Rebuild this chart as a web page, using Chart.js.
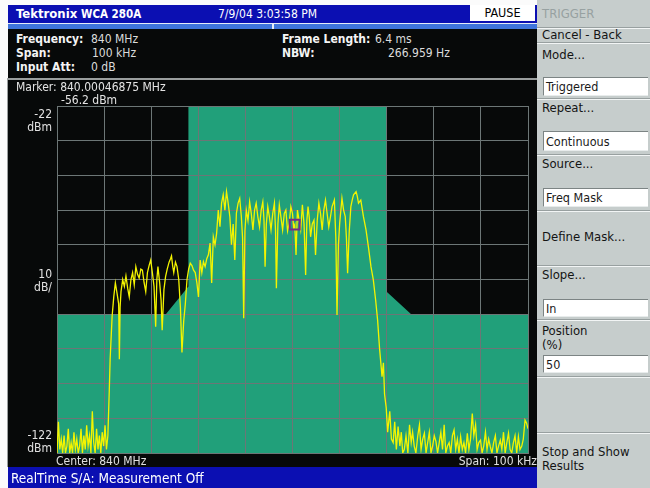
<!DOCTYPE html>
<html><head><meta charset="utf-8">
<script src="https://cdn.jsdelivr.net/npm/chart.js@4/dist/chart.umd.min.js"></script>
<style>
html,body{margin:0;padding:0;background:#fff;}
#screen{position:relative;width:650px;height:488px;overflow:hidden;background:#fbfbfb;
 font-family:"DejaVu Sans Condensed","DejaVu Sans",sans-serif;font-stretch:condensed;}
.r{position:absolute;}
.t{position:absolute;white-space:nowrap;height:14px;line-height:14px;}
.lbl{color:#f4f4f4;font-weight:bold;font-size:12px;}
.val{color:#dcdcdc;font-size:12px;}
.pt{color:#141414;font-size:13px;left:542px;}
.sep{position:absolute;left:537px;width:113px;height:1px;background:#98a0a0;border-bottom:1px solid #f2f5f5;}
.fld{position:absolute;left:543px;width:105px;background:#fff;border-top:1px solid #7c8484;border-left:1px solid #7c8484;border-bottom:1px solid #e8ecec;
 font-size:12.5px;color:#1a1a1a;padding-left:2px;box-sizing:border-box;}
</style></head>
<body>
<div id="screen">
  <!-- top title bar -->
  <div class="r" style="left:8px;top:5px;width:529px;height:18px;background:#0b0fb2;"></div>
  <div class="t" style="left:16px;top:7px;color:#fff;font-weight:bold;font-size:13px;">Tektronix</div>
  <div class="t" style="left:81px;top:7px;color:#fff;font-weight:bold;font-size:11.5px;">WCA 280A</div>
  <div class="t" style="left:218px;top:7px;color:#fff;font-size:12px;">7/9/04 3:03:58 PM</div>
  <div class="r" style="left:470px;top:5px;width:65px;height:16px;background:#fff;"></div>
  <div class="t" style="left:470px;top:6px;width:65px;text-align:center;color:#000;font-size:12.5px;">PAUSE</div>
  <div class="r" style="left:8px;top:23px;width:529px;height:1px;background:#e6ebf8;"></div>
  <div class="r" style="left:8px;top:24px;width:529px;height:5px;background:#3f74dc;"></div>
  <div class="r" style="left:272px;top:23px;width:2px;height:6px;background:#e6ebf8;"></div>

  <!-- black instrument panel -->
  <div class="r" style="left:8px;top:29px;width:529px;height:438px;background:#070909;"></div>
  <div class="t lbl" style="left:16px;top:32px;">Frequency:</div>
  <div class="t val" style="left:91px;top:32px;">840 MHz</div>
  <div class="t lbl" style="left:16px;top:46px;">Span:</div>
  <div class="t val" style="left:92px;top:46px;">100 kHz</div>
  <div class="t lbl" style="left:16px;top:60px;">Input Att:</div>
  <div class="t val" style="left:91px;top:60px;">0 dB</div>
  <div class="t lbl" style="left:282px;top:32px;">Frame Length:</div>
  <div class="t val" style="left:375px;top:32px;">6.4 ms</div>
  <div class="t lbl" style="left:282px;top:46px;">NBW:</div>
  <div class="t val" style="left:388px;top:46px;">266.959 Hz</div>
  <div class="r" style="left:8px;top:78px;width:529px;height:2px;background:#9a9e9e;"></div>
  <div class="r" style="left:7px;top:78px;width:1px;height:389px;background:#9a9e9e;"></div>

  <canvas id="c" class="r" width="529" height="386" style="left:8px;top:81px;"></canvas>

  <div class="t val" style="left:16px;top:80px;color:#e4e4e4;">Marker: 840.00046875 MHz</div>
  <div class="t val" style="left:61px;top:93px;color:#e4e4e4;">-56.2 dBm</div>
  <div class="t val" style="left:56px;top:454px;color:#e0e0e0;">Center: 840 MHz</div>
  <div class="t val" style="left:380px;top:454px;width:157px;text-align:right;color:#e0e0e0;">Span: 100 kHz</div>

  <!-- status bar -->
  <div class="r" style="left:8px;top:467px;width:530px;height:21px;background:#0b0fb2;"></div>
  <div class="t" style="left:11px;top:471px;color:#fff;font-size:13.5px;">RealTime S/A: Measurement Off</div>

  <!-- right soft-key panel -->
  <div class="r" style="left:537px;top:0;width:113px;height:488px;background:#c6cdcc;"></div>
  <div class="t pt" style="top:7px;color:#97a1a1;">TRIGGER</div>
  <div class="sep" style="top:27px;"></div>
  <div class="t pt" style="top:28px;">Cancel - Back</div>
  <div class="sep" style="top:42px;"></div>
  <div class="t pt" style="top:48px;">Mode...</div>
  <div class="fld" style="top:77px;height:19px;line-height:18px;">Triggered</div>
  <div class="sep" style="top:98px;"></div>
  <div class="t pt" style="top:101px;">Repeat...</div>
  <div class="fld" style="top:131px;height:20px;line-height:19px;">Continuous</div>
  <div class="sep" style="top:154px;"></div>
  <div class="t pt" style="top:157px;">Source...</div>
  <div class="fld" style="top:188px;height:19px;line-height:18px;">Freq Mask</div>
  <div class="sep" style="top:210px;"></div>
  <div class="t pt" style="top:230px;">Define Mask...</div>
  <div class="sep" style="top:265px;"></div>
  <div class="t pt" style="top:268px;">Slope...</div>
  <div class="fld" style="top:299px;height:18px;line-height:17px;">In</div>
  <div class="sep" style="top:319px;"></div>
  <div class="t pt" style="top:324px;">Position</div>
  <div class="t pt" style="top:338px;">(%)</div>
  <div class="fld" style="top:355px;height:18px;line-height:17px;">50</div>
  <div class="sep" style="top:376px;"></div>
  <div class="sep" style="top:432px;"></div>
  <div class="t pt" style="top:445px;">Stop and Show</div>
  <div class="t pt" style="top:459px;">Results</div>
</div>

<script>
// ---- data (frequency offset from 840 MHz centre, kHz; level dBm) ----
const traceKHz = [
 -50.0,-49.7,-49.4,-49.1,-48.8,-48.5,-48.2,-47.9,-47.6,-47.3,-47.0,-46.7,-46.4,-46.1,-45.8,-45.5,-45.2,-44.9,-44.6,-44.3,
 -44.0,-43.7,-43.4,-43.1,-42.8,-42.5,-42.2,-41.9,-41.6,-41.3,-41.0,-40.7,-40.4,-40.1,-39.8,-39.5,-39.2,
 -38.9,-38.72,-38.3,-37.95,-37.61,-37.25,-36.91,-36.76,-36.6,-36.41,-36.05,-35.7,-35.36,-35.0,-34.66,-34.3,-33.95,-33.6,
 -33.26,-32.9,-32.56,-32.2,-31.87,-31.5,-31.16,-30.8,-30.45,-30.11,-29.75,-29.4,-29.05,-28.8,-28.57,-28.2,-27.9,-27.67,
 -27.3,-26.95,-26.6,-26.2,-25.9,-25.69,-25.45,-25.21,-24.85,-24.52,-24.15,-23.8,-23.47,-23.1,-22.75,-22.4,-22.05,-21.7,
 -21.35,-21.01,-20.65,-20.3,-19.96,-19.6,-19.25,-18.91,-18.55,-18.2,-17.86,-17.5,-17.16,-16.81,-16.45,-16.11,-15.76,-15.4,
 -15.06,-14.71,-14.35,-14.01,-13.66,-13.3,-12.96,-12.6,-12.25,-11.91,-11.55,-11.2,-10.86,-10.6,-10.36,-10.1,-9.81,-9.45,
 -9.1,-8.75,-8.4,-8.05,-7.71,-7.35,-7.0,-6.65,-6.3,-6.05,-5.82,-5.55,-5.25,-4.9,-4.56,-4.2,-3.84,-3.6,-3.42,-3.1,-2.8,
 -2.45,-2.1,-1.75,-1.41,-1.05,-0.7,-0.35,0.0,0.25,0.48,0.75,1.05,1.4,1.74,2.1,2.45,2.79,3.05,3.3,3.55,3.84,4.2,4.56,4.89,
 5.25,5.6,5.95,6.3,6.65,7.0,7.35,7.7,8.05,8.4,8.89,9.2,9.45,9.75,10.02,10.5,10.85,11.2,11.45,11.7,12.05,12.39,12.7,12.96,
 13.5,13.75,14.01,14.5,15.06,15.61,16.11,16.66,17.16,17.65,18.07,18.49,19.01,19.3,19.54,19.9,20.2,20.65,21.0,21.37,21.7,
 22.05,22.42,22.8,23.1,23.4,23.74,24.1,24.5,24.85,25.2,25.5,25.84,26.2,26.6,26.95,27.3,27.65,28.0,28.35,28.7,29.05,29.4,
 29.75,30.1,30.46,30.8,31.15,31.5,31.85,32.2,32.55,32.9,33.26,33.6,33.95,34.3,34.65,35.0,35.35,35.7,36.05,36.4,36.75,
 37.12,37.45,37.8,38.17,38.5,38.87,39.2,39.55,39.92,40.25,40.6,40.97,41.3,41.65,42.0,42.35,42.7,43.07,43.4,43.75,44.12,
 44.45,44.8,45.15,45.5,45.86,46.2,46.55,46.9,47.25,47.6,47.96,48.3,48.68,49.0,49.37,49.7,50.0
];
const traceDBm = [
 -122,-113,-121,-118,-122,-117,-122,-120,-115,-122,-119,-122,-116,-121,-118,-122,-120,-115,-122,-117,
 -121,-114,-120,-117,-122,-110,-119,-122,-115,-121,-117,-122,-116,-120,-114,-121,-117,
 -104,-95,-82.7,-77,-73,-76,-79,-95,-80,-75.5,-72,-74,-71,-74.5,-77,-72,-70,-73.5,
 -68.3,-70.5,-71.6,-69,-69.3,-73,-75.5,-70,-68,-66.4,-70,-74,-85.6,-72,-68.3,-73,-78,-86.6,
 -75,-71.2,-69,-67,-66,-65.2,-68,-70,-67,-68.3,-72,-80,-93,-84,-79,-72,-69,-67.3,
 -68,-69.3,-70,-73,-77,-66.4,-70,-66.9,-68.3,-66,-64.9,-61.5,-73,-59.7,-62,-58.7,-52,-56.8,
 -50,-47.6,-52,-46.7,-50,-53.9,-62,-56,-66.4,-52.9,-50,-48.6,-53.9,-60,-83.2,-58,-52,-55,
 -49.6,-53,-57.7,-52,-50,-54,-56.8,-52,-49.6,-55,-68.3,-56,-51,-54,-57.7,-53,-50,-58,-74.5,-56,-50.5,
 -54,-57.7,-53,-52,-58,-55.8,-51,-53,-57,-56.2,-64.9,-52,-55,-57.7,-50.5,-56,-70.7,-55,-51,-54,-59.7,-56,-54.9,-64.9,
 -55,-50,-53,-57.7,-52,-49.1,-53,-56.8,-54,-51,-49.1,-60,-82.2,-62,-55.8,-48.6,-52,-53.9,-60,-70.2,-58,-51,-49,-47.6,
 -46.7,-48,-50,-49.1,-53.9,-57.7,-62.5,-68.3,-72.1,-77.9,-83.7,-92,-100,-96,-105,-109,-116,-110,-118,-119,-113,
 -121,-114.4,-120,-116,-122,-121,-117,-122,-113.9,-119,-116,-120,-122,-117,-113.9,-121,-118,-116.3,-122,-119,-116,-122,
 -120,-117,-118.7,-122,-119,-116,-121,-113.9,-122,-120,-119,-122,-117,-115.4,-121,-118,-122,-117.3,-121,-119,-122,
 -116.3,-121,-118,-110.6,-117,-113.9,-121,-119,-118.3,-122,-120,-116,-121,-118,-120.2,-122,-119,-117,-122,-120,-118.3,
 -121,-116,-122,-119,-116.3,-121,-122,-119,-117,-122,-117.3,-121,-120,-118,-112.5,-113.4,-115
];
// frequency mask (trigger mask) corners
const maskKHz = [-50, -26.9, -22.1, -22.1, 20.0, 20.0, 25.2, 50];
const maskDBm = [-82, -82, -74, -22, -22, -75.5, -82, -82];
// marker
const markerKHz = [0.47];
const markerDBm = [-56.2];
// axis
const yTop = -22, yBottom = -122, yStep = 10;
const xLeft = -50, xRight = 50, xStep = 10;
const yLabelValues = [-22, -72, -122];
const yLabelTexts = [["-22","dBm"],["10","dB/"],["-122","dBm"]];

const FONT = '"DejaVu Sans Condensed","DejaVu Sans",sans-serif';
const GRID = '#6c7676';

const toXY = (xs, ys) => xs.map((x, i) => ({x, y: ys[i]}));

const gridOver = {
  id: 'gridOver',
  beforeDatasetDraw(chart, args) {
    if (chart.data.datasets[args.index].label === 'trace') {
      chart.ctx.save();
      chart.scales.x.drawGrid(chart.chartArea);
      chart.scales.y.drawGrid(chart.chartArea);
      chart.ctx.restore();
    }
  }
};
const yLabels = {
  id: 'yLabels',
  afterDraw(chart) {
    const ctx = chart.ctx, ys = chart.scales.y, xr = chart.chartArea.left - 5, lh = 13;
    ctx.save();
    ctx.font = '12px ' + FONT;
    ctx.fillStyle = '#e2e2e2';
    ctx.textAlign = 'right';
    ctx.textBaseline = 'middle';
    yLabelValues.forEach((v, i) => {
      const p = ys.getPixelForValue(v) + 2;
      const lines = yLabelTexts[i];
      let start;
      if (v === yTop) start = p + lh / 2;
      else if (v === yBottom) start = p - lh * (lines.length - 0.5);
      else start = p - lh * (lines.length - 1) / 2;
      lines.forEach((s, j) => ctx.fillText(s, xr, start + j * lh));
    });
    ctx.restore();
  }
};

new Chart(document.getElementById('c'), {
  type: 'line',
  data: {
    datasets: [
      { label: 'marker', data: toXY(markerKHz, markerDBm), showLine: false,
        pointStyle: 'rect', pointRadius: 7, borderColor: '#7a2a86', borderWidth: 2,
        backgroundColor: 'rgba(0,0,0,0)' },
      { label: 'trace', data: toXY(traceKHz, traceDBm), borderColor: '#f4f400',
        borderWidth: 1.3, pointRadius: 0, fill: false, tension: 0 },
      { label: 'mask', data: toXY(maskKHz, maskDBm), borderWidth: 0, borderColor: 'rgba(0,0,0,0)',
        backgroundColor: '#21a07a', fill: 'start', pointRadius: 0, tension: 0 }
    ]
  },
  options: {
    responsive: false,
    animation: false,
    layout: { padding: { left: 49, right: 4, top: 25, bottom: 14 } },
    plugins: { legend: { display: false }, tooltip: { enabled: false } },
    scales: {
      x: { type: 'linear', min: xLeft, max: xRight,
           ticks: { display: false, stepSize: xStep },
           grid: { color: GRID, drawTicks: false, lineWidth: 1 },
           border: { color: GRID } },
      y: { type: 'linear', min: yBottom, max: yTop,
           ticks: { display: false, stepSize: yStep },
           grid: { color: GRID, drawTicks: false, lineWidth: 1 },
           border: { color: GRID } }
    }
  },
  plugins: [gridOver, yLabels]
});
</script>
</body></html>
